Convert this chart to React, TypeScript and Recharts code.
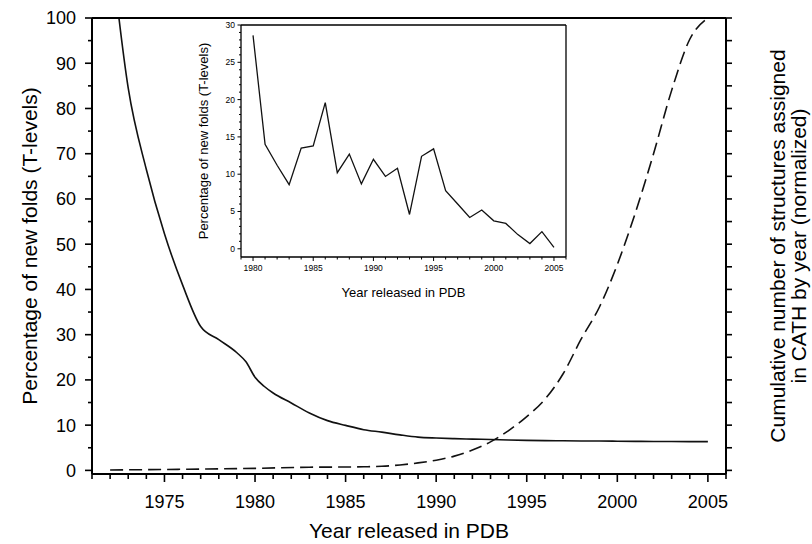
import React from 'react';
import { LineChart, Line, XAxis, YAxis, Label } from 'recharts';

const FONT = '"Liberation Sans", Arial, Helvetica, sans-serif';

// ---- Main chart: percentage of new folds (smoothed) ----
const foldYears = [1972, 1973, 1974, 1975, 1976, 1977, 1978, 1979, 1979.5, 1980, 1980.5, 1981, 1982, 1983, 1984, 1985, 1986, 1987, 1988, 1989, 1990, 1991, 1992, 1993, 1994, 1995, 1996, 1997, 1998, 1999, 2000, 2001, 2002, 2003, 2004, 2005];
const foldPct = [117, 84.5, 66.5, 52.3, 41, 31.8, 28.9, 26.0, 24.0, 20.6, 18.6, 17.1, 14.9, 12.7, 11.0, 9.95, 9.0, 8.45, 7.85, 7.35, 7.15, 7.02, 6.92, 6.82, 6.72, 6.64, 6.58, 6.54, 6.5, 6.48, 6.45, 6.42, 6.4, 6.38, 6.36, 6.35];

// ---- Main chart: cumulative structures in CATH (normalized) ----
const cumYears = [1972, 1975, 1980, 1983, 1985, 1986, 1987, 1988, 1989, 1990, 1991, 1992, 1993, 1994, 1995, 1996, 1997, 1998, 1999, 2000, 2001, 2002, 2003, 2004, 2005];
const cumNorm = [0.1, 0.2, 0.45, 0.7, 0.75, 0.8, 0.9, 1.2, 1.65, 2.25, 3.15, 4.5, 6.3, 8.8, 11.9, 15.7, 21.3, 29.0, 36.0, 45.5, 57.0, 70.0, 84.0, 95.3, 100];

// ---- Inset: yearly percentage of new folds ----
const insetYears = [1980, 1981, 1982, 1983, 1984, 1985, 1986, 1987, 1988, 1989, 1990, 1991, 1992, 1993, 1994, 1995, 1996, 1997, 1998, 1999, 2000, 2001, 2002, 2003, 2004, 2005];
const insetPct = [28.6, 14.0, 11.2, 8.6, 13.5, 13.8, 19.6, 10.2, 12.7, 8.7, 12.0, 9.7, 10.8, 4.6, 12.4, 13.4, 7.8, 6.0, 4.2, 5.2, 3.75, 3.4, 1.9, 0.7, 2.3, 0.2];

// ---- Ticks ----
const mainXTicks = [1971, 1972, 1973, 1974, 1975, 1976, 1977, 1978, 1979, 1980, 1981, 1982, 1983, 1984, 1985, 1986, 1987, 1988, 1989, 1990, 1991, 1992, 1993, 1994, 1995, 1996, 1997, 1998, 1999, 2000, 2001, 2002, 2003, 2004, 2005, 2006];
const mainYTicks = [0, 5, 10, 15, 20, 25, 30, 35, 40, 45, 50, 55, 60, 65, 70, 75, 80, 85, 90, 95, 100];
const insetXTicks = [1979, 1980, 1981, 1982, 1983, 1984, 1985, 1986, 1987, 1988, 1989, 1990, 1991, 1992, 1993, 1994, 1995, 1996, 1997, 1998, 1999, 2000, 2001, 2002, 2003, 2004, 2005, 2006];
const insetYTicks = [0, 1, 2, 3, 4, 5, 6, 7, 8, 9, 10, 11, 12, 13, 14, 15, 16, 17, 18, 19, 20, 21, 22, 23, 24, 25, 26, 27, 28, 29, 30];

const foldData = foldYears.map((year, i) => ({ year, v: foldPct[i] }));
const cumData = cumYears.map((year, i) => ({ year, v: cumNorm[i] }));
const insetData = insetYears.map((year, i) => ({ year, v: insetPct[i] }));

const INK = '#000';

const MainXTick = (props: any) => {
  const { x, y, payload } = props;
  const v = payload.value;
  const major = v % 5 === 0;
  return (
    <g>
      <line x1={x} x2={x} y1={y} y2={y + (major ? 8 : 5)} stroke={INK} strokeWidth={1.6} />
      {major ? (
        <text x={x} y={y + 34} textAnchor="middle" fontSize={18} fontFamily={FONT} fill={INK}>
          {v}
        </text>
      ) : null}
    </g>
  );
};

const MainYTick = (props: any) => {
  const { x, y, payload } = props;
  const v = payload.value;
  const major = v % 10 === 0;
  return (
    <g>
      <line x1={x - (major ? 7 : 4)} x2={x} y1={y} y2={y} stroke={INK} strokeWidth={1.6} />
      {major ? (
        <text x={x - 16} y={y + 6.4} textAnchor="end" fontSize={18} fontFamily={FONT} fill={INK}>
          {v}
        </text>
      ) : null}
    </g>
  );
};

const RightYTick = (props: any) => {
  const { x, y } = props;
  return <line x1={x} x2={x + 6} y1={y} y2={y} stroke={INK} strokeWidth={1.6} />;
};

const InsetXTick = (props: any) => {
  const { x, y, payload } = props;
  const v = payload.value;
  const major = v % 5 === 0;
  return (
    <g>
      <line x1={x} x2={x} y1={y} y2={y + (major ? 4 : 2.5)} stroke={INK} strokeWidth={1} />
      {major ? (
        <text x={x} y={y + 14} textAnchor="middle" fontSize={8.5} fontFamily={FONT} fill={INK}>
          {v}
        </text>
      ) : null}
    </g>
  );
};

const InsetYTick = (props: any) => {
  const { x, y, payload } = props;
  const v = payload.value;
  const major = v % 5 === 0;
  return (
    <g>
      <line x1={x - (major ? 3.5 : 2)} x2={x} y1={y} y2={y} stroke={INK} strokeWidth={1} />
      {major ? (
        <text x={x - 6} y={y + 3} textAnchor="end" fontSize={8.5} fontFamily={FONT} fill={INK}>
          {v}
        </text>
      ) : null}
    </g>
  );
};

const W = 812;
const H = 544;

export default function App() {
  return (
    <div style={{ position: 'absolute', left: 0, top: 0, width: W, height: H, background: '#fff' }}>
      <div style={{ position: 'absolute', left: 0, top: 0 }}>
        <LineChart width={W} height={H} margin={{ top: 17, left: 91, right: 85, bottom: 69 }}>
          <XAxis
            dataKey="year"
            type="number"
            domain={[1971, 2006]}
            ticks={mainXTicks}
            interval={0}
            height={1}
            tickSize={0}
            tickMargin={0}
            tickLine={false}
            tick={<MainXTick />}
            axisLine={{ stroke: INK, strokeWidth: 2 }}
            allowDataOverflow
          >
            <Label
              content={(p: any) => {
                const vb = p.viewBox;
                return (
                  <text x={vb.x + vb.width / 2} y={vb.y + 64} textAnchor="middle" fontSize={21} fontFamily={FONT} fill={INK}>
                    Year released in PDB
                  </text>
                );
              }}
            />
          </XAxis>
          <XAxis
            xAxisId="top"
            orientation="top"
            type="number"
            domain={[1971, 2006]}
            height={1}
            tick={false}
            tickLine={false}
            axisLine={{ stroke: INK, strokeWidth: 2 }}
          />
          <YAxis
            yAxisId="left"
            type="number"
            domain={[-0.8, 100]}
            ticks={mainYTicks}
            interval={0}
            width={1}
            tickSize={0}
            tickMargin={0}
            tickLine={false}
            tick={<MainYTick />}
            axisLine={{ stroke: INK, strokeWidth: 2 }}
            allowDataOverflow
          >
            <Label
              content={(p: any) => {
                const vb = p.viewBox;
                const cx = 37;
                const cy = vb.y + vb.height / 2;
                return (
                  <text x={cx} y={cy} transform={`rotate(-90 ${cx} ${cy})`} textAnchor="middle" fontSize={21} fontFamily={FONT} fill={INK}>
                    Percentage of new folds (T-levels)
                  </text>
                );
              }}
            />
          </YAxis>
          <YAxis
            yAxisId="right"
            orientation="right"
            type="number"
            domain={[-0.8, 100]}
            ticks={mainYTicks}
            interval={0}
            width={1}
            tickSize={0}
            tickMargin={0}
            tickLine={false}
            tick={<RightYTick />}
            axisLine={{ stroke: INK, strokeWidth: 2 }}
            allowDataOverflow
          >
            <Label
              content={(p: any) => {
                const vb = p.viewBox;
                const cy = vb.y + vb.height / 2;
                const x1 = 785;
                const x2 = 806;
                return (
                  <g>
                    <text x={x1} y={cy} transform={`rotate(-90 ${x1} ${cy})`} textAnchor="middle" fontSize={21} fontFamily={FONT} fill={INK}>
                      Cumulative number of structures assigned
                    </text>
                    <text x={x2} y={cy} transform={`rotate(-90 ${x2} ${cy})`} textAnchor="middle" fontSize={21} fontFamily={FONT} fill={INK}>
                      in CATH by year (normalized)
                    </text>
                  </g>
                );
              }}
            />
          </YAxis>
          <Line
            data={foldData}
            dataKey="v"
            yAxisId="left"
            type="monotone"
            stroke="#111"
            strokeWidth={1.6}
            dot={false}
            activeDot={false}
            isAnimationActive={false}
          />
          <Line
            data={cumData}
            dataKey="v"
            yAxisId="right"
            type="monotone"
            stroke="#111"
            strokeWidth={1.6}
            strokeDasharray="13 6"
            dot={false}
            activeDot={false}
            isAnimationActive={false}
          />
        </LineChart>
      </div>
      <div style={{ position: 'absolute', left: 0, top: 0 }}>
        <LineChart width={W} height={H} margin={{ top: 24, left: 240, right: 245, bottom: 286 }}>
          <XAxis
            dataKey="year"
            type="number"
            domain={[1979, 2006]}
            ticks={insetXTicks}
            interval={0}
            height={1}
            tickSize={0}
            tickMargin={0}
            tickLine={false}
            tick={<InsetXTick />}
            axisLine={{ stroke: INK, strokeWidth: 1.3 }}
          >
            <Label
              content={(p: any) => {
                const vb = p.viewBox;
                return (
                  <text x={vb.x + vb.width / 2} y={vb.y + 40} textAnchor="middle" fontSize={13} fontFamily={FONT} fill={INK}>
                    Year released in PDB
                  </text>
                );
              }}
            />
          </XAxis>
          <XAxis
            xAxisId="top"
            orientation="top"
            type="number"
            domain={[1979, 2006]}
            height={1}
            tick={false}
            tickLine={false}
            axisLine={{ stroke: INK, strokeWidth: 1.3 }}
          />
          <YAxis
            type="number"
            domain={[-1.1, 30]}
            ticks={insetYTicks}
            interval={0}
            width={1}
            tickSize={0}
            tickMargin={0}
            tickLine={false}
            tick={<InsetYTick />}
            axisLine={{ stroke: INK, strokeWidth: 1.3 }}
          >
            <Label
              content={(p: any) => {
                const vb = p.viewBox;
                const cx = 208;
                const cy = vb.y + vb.height / 2;
                return (
                  <text x={cx} y={cy} transform={`rotate(-90 ${cx} ${cy})`} textAnchor="middle" fontSize={13} fontFamily={FONT} fill={INK}>
                    Percentage of new folds (T-levels)
                  </text>
                );
              }}
            />
          </YAxis>
          <YAxis
            yAxisId="r"
            orientation="right"
            type="number"
            domain={[-1.1, 30]}
            width={1}
            tick={false}
            tickLine={false}
            axisLine={{ stroke: INK, strokeWidth: 1.3 }}
          />
          <Line
            data={insetData}
            dataKey="v"
            type="linear"
            stroke="#111"
            strokeWidth={1.3}
            dot={false}
            activeDot={false}
            isAnimationActive={false}
          />
        </LineChart>
      </div>
    </div>
  );
}
